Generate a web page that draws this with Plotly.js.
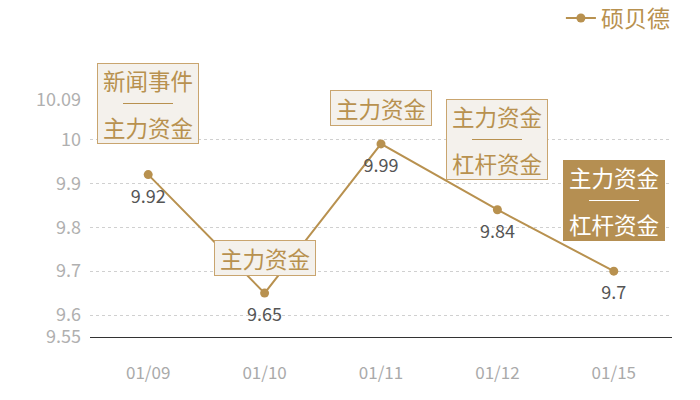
<!DOCTYPE html>
<html>
<head>
<meta charset="utf-8">
<script src="https://cdn.plot.ly/plotly-3.0.1.min.js"></script>
<style>html,body{margin:0;padding:0;background:#fff}#chart{width:700px;height:400px}</style>
</head>
<body>
<div id="chart"></div>
<script>
// data
const dates = ['01/09', '01/10', '01/11', '01/12', '01/15']
const prices = [9.92, 9.65, 9.99, 9.84, 9.7]
const seriesName = '硕贝德'
const yTicks = [9.55, 9.6, 9.7, 9.8, 9.9, 10, 10.09]
// event tags per date (top line / bottom line, null = single line)
const tagTop = ['新闻事件', '主力资金', '主力资金', '主力资金', '主力资金']
const tagBottom = ['主力资金', null, null, '杠杆资金', '杠杆资金']

const gold = '#b8914f'
const font = '"Noto Sans CJK SC", "Open Sans", sans-serif'

// box centers in axis units, last box is highlighted
const boxY = [10.081, 9.730, 10.071, 10.001, 9.860]
const highlight = [false, false, false, false, true]

let annotations = []
dates.forEach((d, i) => {
    let two = tagBottom[i] !== null
    let dark = highlight[i]
    annotations.push({
        x: d, y: boxY[i], xref: 'x', yref: 'y',
        text: ' ', showarrow: false,
        width: 98, height: two ? 77 : 32,
        bgcolor: dark ? '#b58f52' : '#f4f1ec',
        bordercolor: dark ? '#b58f52' : '#c9a56f', borderwidth: 1, borderpad: 1
    })
    let col = dark ? '#ffffff' : gold
    let lines = two ? [[tagTop[i], 23.5], [tagBottom[i], -23.5]] : [[tagTop[i], 0]]
    lines.forEach(([t, dy]) => {
        annotations.push({
            x: d, y: boxY[i], xref: 'x', yref: 'y', yshift: dy,
            text: t, showarrow: false,
            font: {family: font, size: 22.5, color: col}
        })
    })
    if (two) {
        // separator rule between the two tag lines
        annotations.push({
            x: d, y: boxY[i], xref: 'x', yref: 'y',
            text: ' ', showarrow: false,
            width: 50, height: 1, borderpad: 0, borderwidth: 0,
            bgcolor: col
        })
    }
})

const trace = {
    x: dates,
    y: prices,
    name: seriesName,
    type: 'scatter',
    mode: 'lines+markers',
    line: {color: gold, width: 2},
    marker: {color: gold, size: 9},
    cliponaxis: false
}
// value labels, pushed down by a wide invisible marker
const labels = {
    x: dates,
    y: prices,
    type: 'scatter',
    mode: 'markers+text',
    showlegend: false,
    text: prices.map(v => String(v)),
    textposition: 'bottom center',
    textfont: {family: font, size: 18, color: '#555555'},
    marker: {size: 22, opacity: 0},
    cliponaxis: false
}

const layout = {
    width: 700, height: 400,
    margin: {l: 90, r: 28, t: 100, b: 63},
    paper_bgcolor: '#fff', plot_bgcolor: '#fff',
    font: {family: font},
    showlegend: true,
    legend: {
        x: 1.005, xanchor: 'right',
        yref: 'container', y: 0.955, yanchor: 'middle',
        orientation: 'h', itemwidth: 30,
        font: {family: font, size: 23, color: gold}
    },
    xaxis: {
        type: 'category',
        range: [-0.5, 4.5],
        showgrid: false, zeroline: false,
        showline: true, linecolor: '#333333', linewidth: 1,
        ticks: '', ticklabelstandoff: 21,
        tickfont: {family: font, size: 17, color: '#aaaaaa'}
    },
    yaxis: {
        range: [9.55, 10.09],
        tickvals: yTicks,
        ticktext: yTicks.map(v => String(v)),
        showgrid: true, gridcolor: '#d0d0d0', griddash: '3px,3px',
        zeroline: false, showline: false, ticks: '', ticklabelstandoff: 8,
        tickfont: {family: font, size: 18, color: '#b0b0b0'}
    },
    annotations: annotations
}

Plotly.newPlot('chart', [trace, labels], layout, {displayModeBar: false, staticPlot: true})
</script>
</body>
</html>
